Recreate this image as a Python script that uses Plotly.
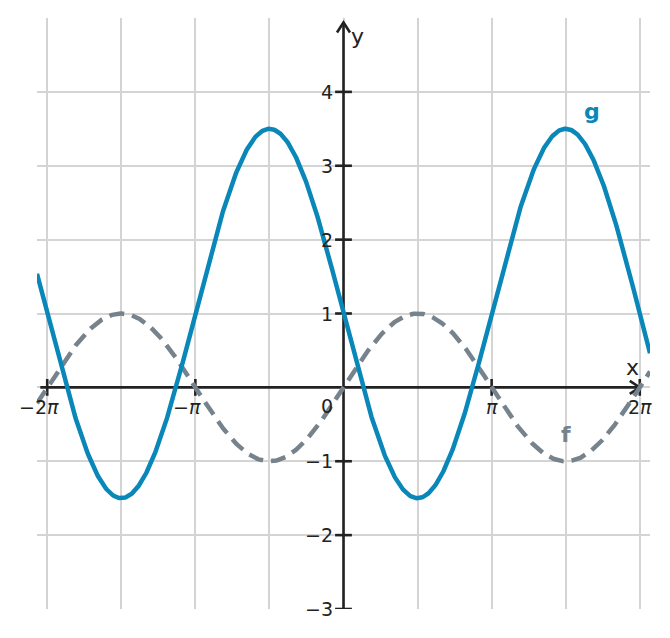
import numpy as np
import plotly.graph_objects as go

PI = np.pi
# function parameters: f(x) = sin x ; g(x) = 1 - 2.5 sin x
f_amp = 1.0
g_offset = 1.0
g_amp = -2.5

x_min, x_max = -6.5, 6.5
y_min, y_max = -3, 5
y_arrow_tip = 4.94
x_axis_start = -6.43

xtick_vals = [-2 * PI, -PI, PI, 2 * PI]
xtick_text = ["−2<i>π</i>", "−<i>π</i>", "<i>π</i>", "2<i>π</i>"]
xtick_shift = [-8, -8, 0, 0]
ytick_vals = [-3, -2, -1, 1, 2, 3, 4]
ytick_text = ["−3", "−2", "−1", "1", "2", "3", "4"]
xgrid_vals = [k * PI / 2 for k in range(-4, 5)]
ygrid_vals = list(range(-3, 5))

xs = np.linspace(x_min, x_max, 800)
f_vals = f_amp * np.sin(xs)
g_vals = g_offset + g_amp * np.sin(xs)

BLUE = "#0a87b9"
GRAY = "#77838c"
AX = "#222222"
FONT = "DejaVu Sans"

# page body has an 8px margin; compensate
W, H = 662, 630
ml, mr, mt, mb = 29, 20, 10, 29
pxx = (W - ml - mr) / (x_max - x_min)
pxy = (H - mt - mb) / (y_max - y_min)

fig = go.Figure()

# axis lines
fig.add_trace(go.Scatter(x=[x_axis_start, 2 * PI], y=[0, 0], mode="lines",
                         line=dict(color=AX, width=2.6), hoverinfo="skip"))
fig.add_trace(go.Scatter(x=[0, 0], y=[y_min, y_arrow_tip], mode="lines",
                         line=dict(color=AX, width=2.6), hoverinfo="skip"))
# arrow chevrons
ax_len, ax_half = 10 / pxx, 6.5 / pxy
fig.add_trace(go.Scatter(x=[2 * PI - ax_len, 2 * PI, 2 * PI - ax_len],
                         y=[ax_half, 0, -ax_half], mode="lines",
                         line=dict(color=AX, width=2.6), hoverinfo="skip"))
ay_len, ay_half = 10 / pxy, 6.5 / pxx
fig.add_trace(go.Scatter(x=[-ay_half, 0, ay_half],
                         y=[y_arrow_tip - ay_len, y_arrow_tip, y_arrow_tip - ay_len], mode="lines",
                         line=dict(color=AX, width=2.6), hoverinfo="skip"))
# tick marks
fig.add_trace(go.Scatter(x=[0] * len(ytick_vals), y=ytick_vals, mode="markers",
                         marker=dict(symbol="line-ew", size=12, line=dict(color=AX, width=2.6)),
                         hoverinfo="skip"))
fig.add_trace(go.Scatter(x=xtick_vals, y=[0] * len(xtick_vals), mode="markers",
                         marker=dict(symbol="line-ns", size=12, line=dict(color=AX, width=2.6)),
                         hoverinfo="skip"))

# curves
fig.add_trace(go.Scatter(x=xs, y=f_vals, mode="lines",
                         line=dict(color=GRAY, width=4.5, dash="15px,8px"), hoverinfo="skip"))
fig.add_trace(go.Scatter(x=xs, y=g_vals, mode="lines",
                         line=dict(color=BLUE, width=4.5), hoverinfo="skip"))

ann = []
for v, t in zip(ytick_vals, ytick_text):
    ann.append(dict(x=0, y=v, text=t, showarrow=False, xanchor="right", yanchor="middle",
                    xshift=-9, font=dict(family=FONT, size=19, color=AX)))
for v, t, s in zip(xtick_vals, xtick_text, xtick_shift):
    ann.append(dict(x=v, y=0, text=t, showarrow=False, xanchor="center", yanchor="middle",
                    xshift=s, yshift=-20, font=dict(family=FONT, size=19, color=AX)))
ann.append(dict(x=0, y=0, text="0", showarrow=False, xanchor="center", yanchor="middle",
                xshift=-17, yshift=-19, font=dict(family=FONT, size=19, color=AX)))
ann.append(dict(x=2 * PI, y=0, text="x", showarrow=False, xanchor="center", yanchor="middle",
                xshift=-7, yshift=20, font=dict(family=FONT, size=22, color=AX)))
ann.append(dict(x=0, y=y_arrow_tip, text="y", showarrow=False, xanchor="center", yanchor="middle",
                xshift=14, yshift=-14, font=dict(family=FONT, size=22, color=AX)))
ann.append(dict(x=5.27, y=3.73, text="<b>g</b>", showarrow=False, xanchor="center", yanchor="middle",
                font=dict(family=FONT, size=22, color=BLUE)))
ann.append(dict(x=4.72, y=-0.64, text="<b>f</b>", showarrow=False, xanchor="center", yanchor="middle",
                font=dict(family=FONT, size=22, color=GRAY)))

fig.update_layout(
    width=W, height=H, margin=dict(l=ml, r=mr, t=mt, b=mb),
    paper_bgcolor="white", plot_bgcolor="white", showlegend=False,
    annotations=ann,
    xaxis=dict(range=[x_min, x_max], tickvals=xgrid_vals, showticklabels=False, ticks="",
               showgrid=True, gridcolor="#d4d4d4", gridwidth=1.5, zeroline=False, showline=False,
               fixedrange=True),
    yaxis=dict(range=[y_min, y_max], tickvals=ygrid_vals, showticklabels=False, ticks="",
               showgrid=True, gridcolor="#d4d4d4", gridwidth=1.5, zeroline=False, showline=False,
               fixedrange=True),
)
fig.write_html("out.html")
